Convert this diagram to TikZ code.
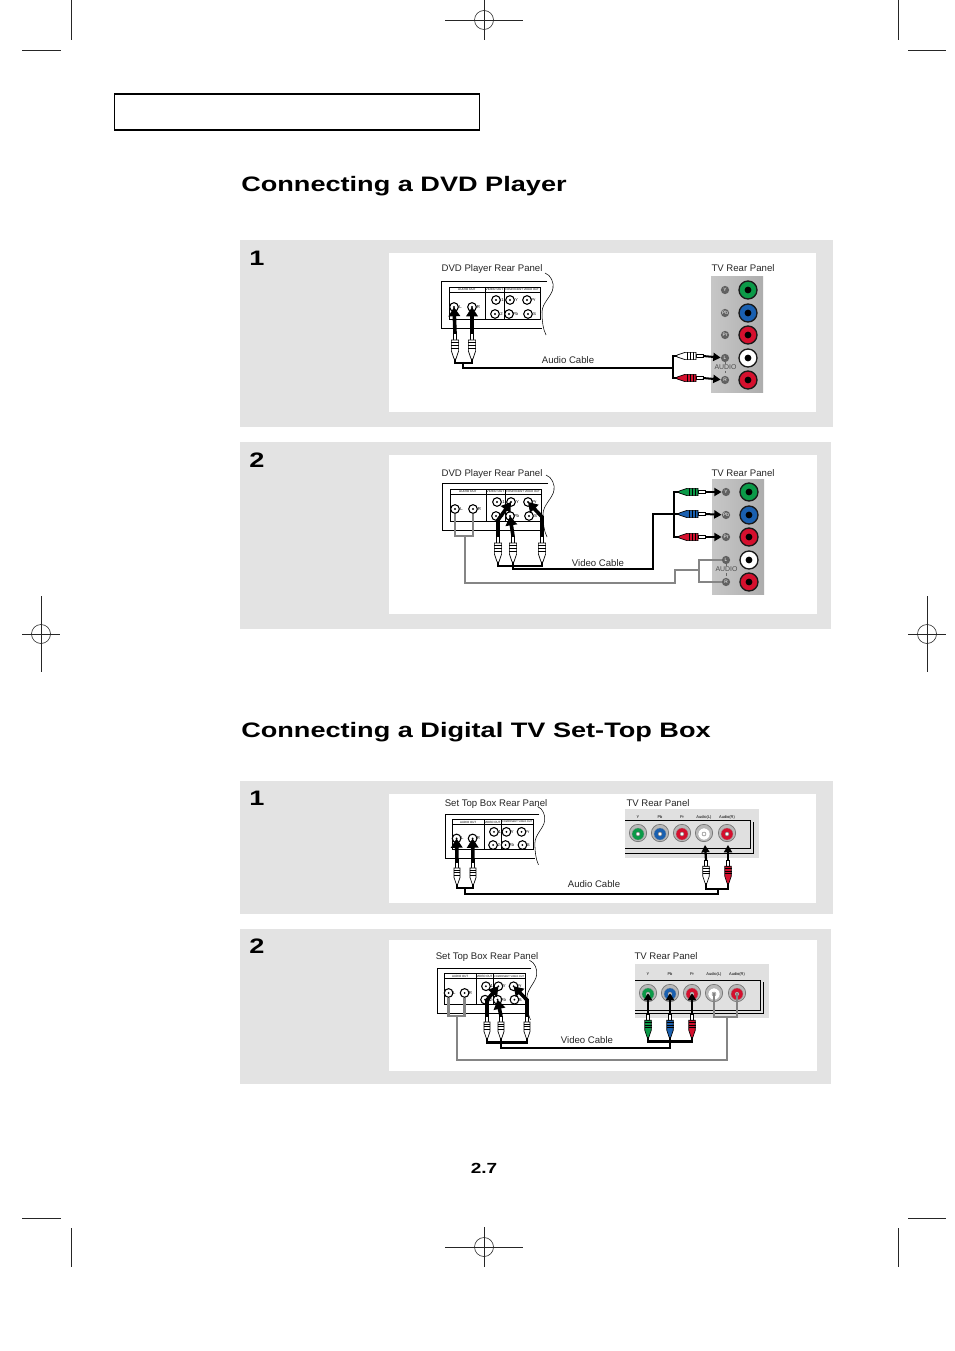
\documentclass[tikz,border=0pt]{standalone}
\usepackage{fontspec}
\setmainfont{Liberation Sans}
\newfontfamily\headfont[FakeStretch=1.295]{Liberation Sans}
\usetikzlibrary{arrows.meta}

\definecolor{jackgreen}{HTML}{0B9A48}
\definecolor{jackblue}{HTML}{1A60B0}
\definecolor{jackred}{HTML}{D5102E}
\definecolor{cablegray}{HTML}{858585}
\definecolor{bandgray}{HTML}{E3E3E3}

\tikzset{
  markline/.style={line width=0.45pt, draw=black!85},
  bandbox/.style={fill=bandgray},
  whitebox/.style={fill=white},
  heading/.style={font=\headfont\bfseries\fontsize{15.7}{18}\selectfont, anchor=base west, inner sep=0pt},
  stepnum/.style={font=\headfont\bfseries\fontsize{15.7}{18}\selectfont, inner sep=0pt},
  panellabel/.style={font=\fontsize{7.2}{9}\selectfont, inner sep=0pt, text=black!85},
  hdrtext/.style={font=\fontsize{2.4}{3}\selectfont, inner sep=0pt, transform shape},
  hdrwide/.style={font=\fontsize{2.05}{3}\selectfont, inner sep=0pt, transform shape},
  jacktag/.style={font=\fontsize{3.2}{4}\selectfont, inner sep=0pt},
  jackport/.style={circle, draw=black, line width=0.8pt, fill=white, minimum size=6.5pt, inner sep=0pt},
  socket/.style={circle, draw=black!90, line width=1pt, minimum size=13.5pt, inner sep=0pt},
  chip/.style={circle, fill=black!62, text=white, minimum size=6.2pt, inner sep=0pt, font=\fontsize{3.6}{4}\selectfont},
  rowsocket/.style={circle, draw=black!55, line width=0.5pt, fill=black!28, minimum size=13pt, inner sep=0pt},
  jackarrow/.style={line width=2.7pt, -{Triangle[length=7pt,width=8.5pt]}},
  thinarrow/.style={line width=1.7pt, -{Triangle[length=5.5pt,width=6pt]}},
  sidearrow/.style={line width=1.5pt, -{Triangle[length=5.5pt,width=6pt]}},
  blackcable/.style={line width=2.1pt},
  thincable/.style={line width=1.6pt},
  graycable/.style={line width=1.9pt, draw=cablegray},
  % rear panel of the source:
  pics/srcpanel/.style={code={
    \draw [line width=0.7pt] (106,0) -- (0,0) -- (0,47) -- (101,47);
    \draw [line width=0.4pt] (104,-8) .. controls (110,-6) and (113,2) .. (112,7) .. controls (111,15) and (101,22) .. (101,31) .. controls (101,40) and (102,48) .. (105,54);
    \draw [line width=0.5pt] (8,6) rectangle (99,38);
    \draw [line width=0.5pt] (8,11) -- (99,11) (44,6) -- (44,38) (63,6) -- (63,38);
    \node [hdrtext] (-audiohdr) at (26,8.5) {AUDIO OUT};
    \node [hdrtext] (-videohdr) at (53.5,8.5) {VIDEO OUT};
    \node [hdrwide] (-comphdr) at (81,8.5) {COMPONENT VIDEO OUT};
    \foreach \name/\jx/\jy/\tag in {L/13/26/L, R/31/26/R, A/55/19/1, B/54/33/2, Y/69/19/Y, Pb/68/33/Pb, Pr/86/19/Pr, S/87/33/S} {
      \node [jackport] (-\name) at (\jx,\jy) {};
      \fill (\jx,\jy) circle[radius=1.1];
      \node [jacktag] (-\name tag) at ({\jx+6.5},\jy) {\tag};
    }
  }},
  % tv panel, upright:
  pics/tvcolumn/.style={code={
    \shade [left color=black!22, middle color=black!10, right color=black!32] (0,0) rectangle (52,115.5);
    \foreach \name/\jy/\col/\tag in {Y/13/jackgreen/Y, Pb/36/jackblue/Pb, Pr/58/jackred/Pr, L/81/white/L, R/103/jackred/R} {
      \node [socket, fill=\col] (-\name) at (37,\jy) {};
      \fill (37,\jy) circle[radius=3.4];
      \node [chip] (-\name tag) at (14,\jy) {\tag};
    }
    \node [font=\fontsize{5.2}{6}\selectfont, inner sep=0pt, text=black!70] (-audio) at (14.5,90.5) {AUDIO};
    \draw [line width=0.3pt, black!60] (14.5,84.5) -- (14.5,87) (14.5,94) -- (14.5,96.5);
  }},
  % tv panel, lying flat:
  pics/tvrow/.style={code={
    \fill [black!12] (0,0) rectangle (134,49+#1);
    \draw [line width=0.6pt] (0,11+#1) -- (125,11+#1) -- (125,39+#1*1.4) -- (0,39+#1*1.4);
    \draw [line width=0.7pt] (0,44+#1) -- (128,44+#1) -- (128,13+#1);
    \foreach \name/\jx/\col/\tag in {Y/13/jackgreen/Y, Pb/35/jackblue/Pb, Pr/57/jackred/Pr, L/79/white/Audio(L), R/102/jackred/Audio(R)} {
      \node [rowsocket] (-\name) at (\jx,24+#1) {};
      \filldraw [fill=\col, draw=black!40, line width=0.2pt] (\jx,25+#1) circle[radius=6];
      \filldraw [fill=white, draw=black!60, line width=0.3pt] (\jx,25+#1) circle[radius=2];
      \node [jacktag, font=\fontsize{3}{4}\selectfont] (-\name tag) at (\jx,8+#1/2) {\tag};
    }
  }},
  % plug, tip at the origin, cable end below it:
  pics/cableplug/.style={code={
    \coordinate (-tip) at (0,0);
    \coordinate (-tail) at (0,26);
    \filldraw [fill=white, line width=0.4pt] (-1.6,0) rectangle (1.6,7);
    \filldraw [fill=#1, line width=0.5pt] (-3.6,7) -- (3.6,7) -- (3.6,18) -- (0.9,26) -- (-0.9,26) -- (-3.6,18) -- cycle;
    \draw [line width=0.8pt] (-3.9,9.5) -- (3.9,9.5) (-3.9,12.5) -- (3.9,12.5) (-3.9,15.5) -- (3.9,15.5);
  }},
}

\begin{document}
\begin{tikzpicture}[x=0.75pt, y=-0.75pt]
\useasboundingbox (0,0) rectangle (954,1351);

% crop marks:
\foreach \x/\ya/\yb in {71/0/40, 898/0/40, 71/1228/1267, 898/1228/1267} {
  \draw [markline] (\x,\ya) -- (\x,\yb);
}
\foreach \y/\xa/\xb in {50/22/61, 50/908/946, 1218/22/61, 1218/908/946} {
  \draw [markline] (\xa,\y) -- (\xb,\y);
}
\foreach \x/\y/\rx/\ry in {484/20/39/20, 41/634/19/38, 927/634/19/38, 484/1247/39/20} {
  \draw [markline] (\x,\y) circle[radius=9.5];
  \draw [markline] (\x-\rx,\y) -- (\x+\rx,\y) (\x,\y-\ry) -- (\x,\y+\ry);
}

\draw [line width=0.95pt] (114.5,94) rectangle (479.5,130);

\node [heading] (titleA) at (241,192) {Connecting a DVD Player};
\node [heading] (titleB) at (241,737) {Connecting a Digital TV Set-Top Box};
\node [font=\headfont\bfseries\fontsize{11}{13}\selectfont, inner sep=0pt] (pagenum) at (484,1168) {2.7};

% four bands:
\foreach \ya/\yb/\xc/\wa/\wb/\wc in {240/427/833/253/412/816, 442/629/831/455/614/817, 781/914/833/794/903/816, 929/1084/831/940/1071/817} {
  \fill [bandbox] (240,\ya) rectangle (\xc,\yb);
  \fill [whitebox] (389,\wa) rectangle (\wc,\wb);
}
\node [stepnum] (numA) at (257,258) {1};
\node [stepnum] (numB) at (257,460) {2};
\node [stepnum] (numC) at (257,798) {1};
\node [stepnum] (numD) at (257,946) {2};

% --- dvd, audio
\node [panellabel] (srcnameA) at (492,268.7) {DVD Player Rear Panel};
\node [panellabel] (tvnameA) at (743,268) {TV Rear Panel};
\node [panellabel] (cablenameA) at (568,360) {Audio Cable};
\pic (srcA) at (441,281) {srcpanel};
\pic (tvA) at (711,277) {tvcolumn};
\pic (plugAL) at (455,333) {cableplug=white};
\pic (plugAR) at (472,333) {cableplug=white};
\pic [rotate=-90] (plugAW) at (703,356) {cableplug=white};
\pic [rotate=-90] (plugAD) at (703,378) {cableplug=jackred};
\draw [jackarrow] (plugAL-tip) -- (srcA-L.center);
\draw [jackarrow] (plugAR-tip) -- (srcA-R.center);
\draw [sidearrow] (plugAW-tip) -- (tvA-Ltag);
\draw [sidearrow] (plugAD-tip) -- (tvA-Rtag);
\coordinate (busA) at (463,362);
\coordinate (barA) at (673,368);
\draw [blackcable] (plugAL-tail) -- ++(0,4) -| (plugAR-tail);
\draw [blackcable] (busA) |- (barA);
\draw [blackcable] (plugAW-tail) -| (barA) |- (plugAD-tail);

% --- dvd, video
\node [panellabel] (srcnameB) at (492,473.7) {DVD Player Rear Panel};
\node [panellabel] (tvnameB) at (743,473) {TV Rear Panel};
\node [panellabel] (cablenameB) at (598,563) {Video Cable};
\pic (srcB) at (442,483) {srcpanel};
\pic (tvB) at (712,479) {tvcolumn};
\pic (plugBY) at (498,536) {cableplug=white};
\pic (plugBB) at (513,536) {cableplug=white};
\pic (plugBR) at (542,536) {cableplug=white};
\pic [rotate=-90] (plugBG) at (705,492) {cableplug=jackgreen};
\pic [rotate=-90] (plugBU) at (705,514) {cableplug=jackblue};
\pic [rotate=-90] (plugBD) at (705,537) {cableplug=jackred};
\coordinate (bendBY) at (498,520);
\coordinate (bendBR) at (542,517);
\draw [jackarrow] (plugBY-tip) -- (bendBY) -- (srcB-Y.center);
\draw [jackarrow] (plugBB-tip) -- (srcB-Pb.center);
\draw [jackarrow] (plugBR-tip) -- (bendBR) -- (srcB-Pr.center);
\draw [sidearrow] (plugBG-tip) -- (tvB-Ytag);
\draw [sidearrow] (plugBU-tip) -- (tvB-Pbtag);
\draw [sidearrow] (plugBD-tip) -- (tvB-Prtag);
\coordinate (barB) at (674,514);
\draw [blackcable] (plugBY-tail) -- ++(0,4) -| (plugBR-tail);
\draw [blackcable] (plugBB-tail) -- (513,569) -- (653,569) |- (barB);
\draw [blackcable] (plugBG-tail) -| (barB) |- (plugBD-tail);
\draw [blackcable] (barB) -- (plugBU-tail);
\coordinate (busB) at (465,536);
\coordinate (barBg) at (699,570);
\draw [graycable] (srcB-L) |- (busB) -| (srcB-R);
\draw [graycable] (busB) -- (465,583) -- (675,583) |- (barBg);
\draw [graycable] (tvB-Ltag) -| (barBg) |- (tvB-Rtag);

% --- set top, audio
\node [panellabel] (srcnameC) at (496,803.7) {Set Top Box Rear Panel};
\node [panellabel] (tvnameC) at (658,803) {TV Rear Panel};
\node [panellabel] (cablenameC) at (594,884) {Audio Cable};
\pic [xscale=0.89, yscale=0.94] (srcC) at (445,814) {srcpanel};
\pic (tvC) at (625,809) {tvrow=0};
\pic [scale=0.85] (plugCL) at (457,862) {cableplug=white};
\pic [scale=0.85] (plugCR) at (473,862) {cableplug=white};
\pic [scale=0.9] (plugCW) at (706,860) {cableplug=white};
\pic [scale=0.9] (plugCD) at (728,860) {cableplug=jackred};
\draw [jackarrow] (plugCL-tip) -- (srcC-L.center);
\draw [jackarrow] (plugCR-tip) -- (srcC-R.center);
\draw [thinarrow] (plugCW-tip) -- (705,845);
\draw [thinarrow] (plugCD-tip) -- (728,845);
\coordinate (busCa) at (465,888);
\coordinate (busCb) at (718,889);
\draw [thincable] (plugCL-tail) |- (busCa) -| (plugCR-tail);
\draw [thincable] (plugCW-tail) |- (busCb) -| (plugCD-tail);
\draw [thincable] (busCa) |- (718,894) -- (busCb);

% --- set top, video
\node [panellabel] (srcnameD) at (487,956.7) {Set Top Box Rear Panel};
\node [panellabel] (tvnameD) at (666,956) {TV Rear Panel};
\node [panellabel] (cablenameD) at (587,1040) {Video Cable};
\pic [xscale=0.89, yscale=0.96] (srcD) at (437,968) {srcpanel};
\pic (tvD) at (635,964) {tvrow=5};
\pic [scale=0.85] (plugDY) at (487,1016) {cableplug=white};
\pic [scale=0.85] (plugDB) at (501,1016) {cableplug=white};
\pic [scale=0.85] (plugDR) at (527,1016) {cableplug=white};
\pic [scale=0.9] (plugDG) at (648,1014) {cableplug=jackgreen};
\pic [scale=0.9] (plugDU) at (670,1014) {cableplug=jackblue};
\pic [scale=0.9] (plugDD) at (692,1014) {cableplug=jackred};
\coordinate (bendDY) at (487,1000);
\coordinate (bendDR) at (527,1000);
\draw [jackarrow] (plugDY-tip) -- (bendDY) -- (srcD-Y.center);
\draw [jackarrow] (plugDB-tip) -- (srcD-Pb.center);
\draw [jackarrow] (plugDR-tip) -- (bendDR) -- (srcD-Pr.center);
\draw [thinarrow] (plugDG-tip) -- (tvD-Y.center);
\draw [thinarrow] (plugDU-tip) -- (tvD-Pb.center);
\draw [thinarrow] (plugDD-tip) -- (tvD-Pr.center);
\draw [blackcable] (plugDY-tail) -- ++(0,4) -| (plugDR-tail);
\draw [blackcable] (plugDG-tail) -- ++(0,4) -| (plugDD-tail);
\draw [blackcable] (plugDB-tail) -- (501,1048) -| (plugDU-tail);
\coordinate (busD) at (457,1016);
\coordinate (barD) at (727,1017);
\draw [graycable] (srcD-L) |- (busD) -| (srcD-R);
\draw [graycable] (busD) |- (727,1060) -- (barD);
\draw [graycable] (tvD-L.center) |- (barD) -| (tvD-R.center);

\end{tikzpicture}
\end{document}
